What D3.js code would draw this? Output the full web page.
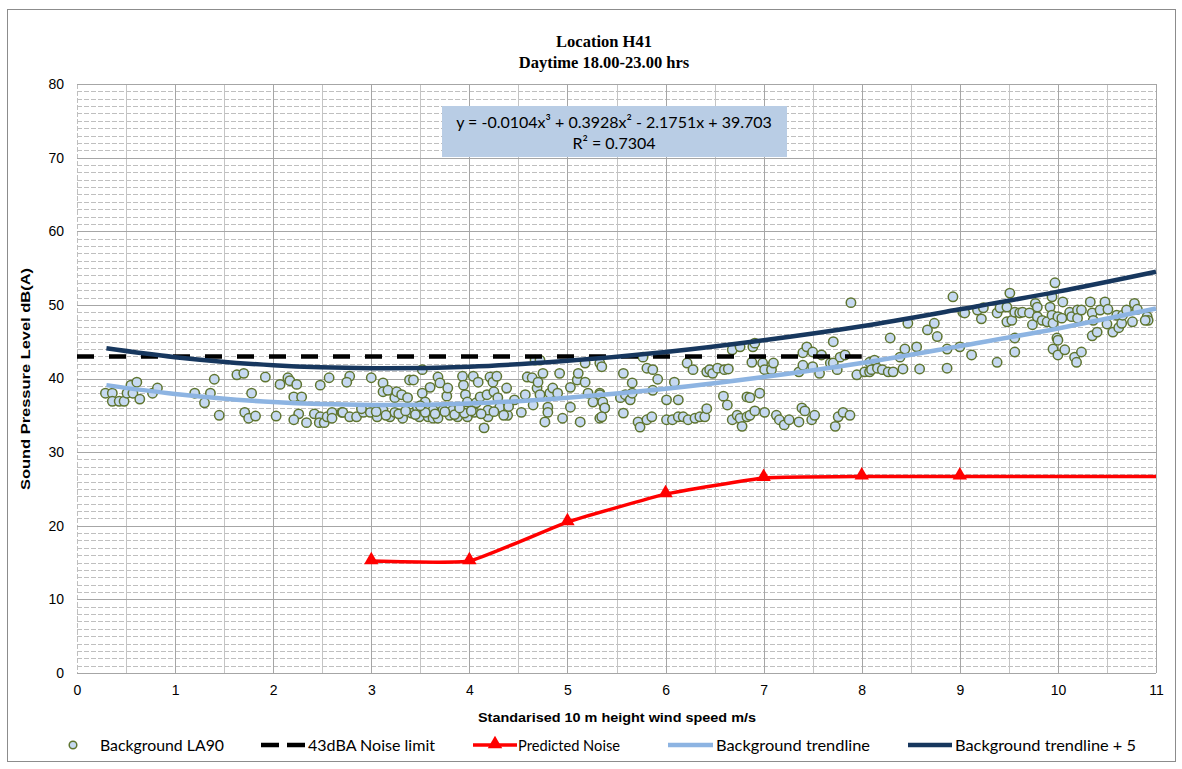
<!DOCTYPE html>
<html><head><meta charset="utf-8">
<script src="https://cdn.jsdelivr.net/npm/d3@7"></script>
<style>
html,body{margin:0;padding:0;background:#fff;}
svg{display:block;}
</style></head>
<body>
<svg id="chart" width="1182" height="769"></svg>
<script>
// ---------------- DATA ----------------
const titleLines = ["Location H41", "Daytime 18.00-23.00 hrs"];
const equationLines = ["y = -0.0104x³ + 0.3928x² - 2.1751x + 39.703", "R² = 0.7304"];
const xTicks = [0,1,2,3,4,5,6,7,8,9,10,11];
const yTicks = [0,10,20,30,40,50,60,70,80];
const xTitle = "Standarised 10 m height wind speed m/s";
const yTitle = "Sound Pressure Level dB(A)";
const legendLabels = ["Background LA90","43dBA Noise limit","Predicted Noise","Background trendline","Background trendline + 5"];

// Background LA90 scatter (wind speed m/s, dB(A))
const scatterX = [0.29,0.36,0.36,0.43,0.48,0.55,0.61,0.51,0.57,0.64,0.77,0.82,1.2,1.36,1.3,1.4,1.45,1.63,1.7,1.92,1.78,1.71,1.75,1.82,2.03,2.07,2.15,2.17,2.24,2.21,2.29,2.26,2.21,2.34,2.42,2.48,2.47,2.52,2.55,2.57,2.48,2.6,2.6,2.7,
2.78,2.75,2.71,2.78,2.85,2.92,3.0,2.99,3.06,3.12,3.12,3.17,3.12,3.19,3.24,3.26,3.24,3.31,3.32,3.37,3.39,3.43,3.41,3.47,3.49,3.52,3.55,3.52,3.58,3.6,3.63,3.63,3.68,3.68,3.7,3.73,3.77,3.78,3.8,3.83,3.88,3.93,3.94,3.96,3.98,3.98,4.04,4.05,4.07,4.09,4.11,4.18,4.19,4.19,4.21,4.24,4.25,4.28,4.29,4.31,4.15,4.38,4.39,4.46,4.53,4.57,4.59,4.64,4.65,4.67,4.72,4.69,4.7,4.72,4.75,4.77,4.8,4.8,4.82,4.85,4.9,4.92,4.95,5.03,5.03,5.1,5.11,5.13,5.18,5.21,5.18,5.26,5.33,5.33,5.38,
5.33,5.35,5.33,5.36,5.38,5.35,5.57,5.54,5.59,5.66,5.64,5.66,5.57,5.72,5.74,5.81,5.86,5.77,5.81,5.87,5.92,5.87,6.01,6.01,6.07,6.09,6.13,6.13,6.18,6.23,6.3,6.35,6.4,6.42,6.22,6.28,6.42,6.45,6.48,6.53,6.6,6.64,6.59,6.63,6.68,6.76,6.89,6.91,6.88,6.83,6.86,6.96,6.99,7.01,7.08,7.1,6.68,6.73,6.76,6.78,6.83,6.86,6.91,7.01,7.13,7.16,7.21,7.26,7.36,7.39,7.42,7.49,7.52,7.36,7.4,7.44,7.5,7.4,7.5,7.57,7.59,7.71,7.68,7.71,7.75,7.78,7.83,7.73,7.76,7.81,7.88,7.95,8.03,8.08,8.13,7.89,
8.08,8.13,8.1,8.16,8.21,8.27,8.32,8.29,8.42,8.44,8.39,8.47,8.56,8.59,8.67,8.74,8.77,8.87,8.87,8.93,9.0,9.03,9.05,9.12,9.18,9.22,9.24,9.38,9.38,9.41,9.48,9.48,9.51,9.53,9.56,9.56,9.56,9.61,9.64,9.71,9.74,9.77,9.79,9.79,9.84,9.89,9.92,9.94,9.94,9.95,9.95,9.97,10.0,9.99,10.0,10.0,10.04,10.05,10.07,10.12,10.14,10.17,10.19,10.2,10.2,10.24,10.24,10.33,10.35,10.35,10.36,10.4,10.43,10.48,10.5,10.51,10.56,10.6,10.62,10.65,10.66,10.7,10.76,10.78,10.81,10.91,10.92,10.89,
3.05,3.15,3.28,3.35,3.45,3.55,3.65,3.75,3.85,3.95,4.02,4.12,4.25,4.35,2.9,3.5,3.9,4.4];
const scatterY = [38.0,38.0,36.9,36.9,36.9,39.1,39.5,38.0,38.0,37.2,38.0,38.7,38.0,38.0,36.7,39.9,35.0,40.5,40.7,40.2,38.0,35.4,34.6,34.9,34.9,39.2,40.1,39.7,39.2,37.5,37.5,35.2,34.4,34.0,35.2,34.8,34.0,34.0,34.8,40.1,39.1,35.4,34.6,35.4,
40.3,39.5,35.4,34.8,34.8,35.4,40.1,35.4,34.8,39.4,38.2,38.4,35.7,34.8,37.4,38.2,35.4,37.8,34.6,37.4,39.8,39.8,35.3,36.1,34.8,38.0,36.8,41.2,34.8,38.8,35.7,34.6,34.6,40.2,39.4,35.7,37.6,38.7,35.0,35.7,34.8,40.3,39.1,37.8,36.8,34.8,40.3,35.4,36.7,39.5,37.5,37.8,34.8,35.7,40.2,39.5,38.2,40.3,37.4,36.1,33.3,38.7,35.0,37.1,35.4,37.8,40.2,40.1,36.4,42.5,42.5,38.7,39.5,37.8,40.7,34.1,36.1,35.4,38.0,38.7,38.0,40.7,34.6,38.8,36.1,39.8,40.7,34.1,39.5,38.0,42.1,36.8,38.0,34.6,36.0,
42.1,41.6,37.8,36.8,36.0,34.8,40.7,37.4,37.8,39.4,37.1,38.0,35.3,34.1,33.4,34.4,34.8,42.9,41.4,41.2,39.9,38.4,37.1,34.4,34.4,39.5,37.1,34.8,34.8,34.4,34.6,34.8,34.8,35.9,42.1,41.2,40.9,41.2,40.7,41.4,41.2,41.3,37.6,36.4,43.9,44.3,44.3,44.8,42.2,37.5,37.4,38.0,42.1,41.2,41.2,42.1,34.4,35.0,34.6,33.5,34.8,35.0,35.6,35.4,35.0,34.4,33.7,34.4,34.1,36.0,35.6,34.4,35.0,40.9,43.5,44.3,43.6,41.8,41.6,40.7,43.2,45.0,42.1,42.1,41.2,42.9,43.2,33.5,34.8,35.4,35.0,40.5,40.9,40.9,42.2,50.3,
42.2,42.5,41.2,41.4,41.2,40.9,40.9,45.5,41.3,44.0,42.9,47.5,44.3,41.3,46.6,47.5,45.7,44.0,41.4,51.1,44.3,49.0,48.9,43.2,49.3,48.1,49.6,48.9,42.2,49.6,47.7,49.7,51.6,47.9,49.0,45.5,43.6,48.9,49.0,48.9,47.3,50.2,49.7,48.4,47.9,47.7,49.7,51.1,48.6,47.5,44.0,53.0,48.4,45.5,45.2,43.2,48.2,50.4,43.9,49.0,48.4,42.9,42.2,49.3,48.2,49.3,43.6,50.4,48.9,45.8,47.9,46.3,49.3,50.4,47.4,49.4,46.3,48.6,46.9,47.5,48.6,49.3,47.7,50.2,49.4,48.4,47.9,47.9,
35.5,35.0,35.2,35.6,35.1,35.4,35.2,35.5,35.1,35.3,35.6,35.2,35.5,35.0,35.9,36.3,36.0,36.2];

// 43dBA noise limit
const limitX = [0, 8];
const limitY = [43, 43];

// Predicted noise
const predX = [3,4,5,6,7,8,9,10,11];
const predY = [15.2,15.2,20.5,24.3,26.5,26.7,26.7,26.7,26.7];
const predMarked = [true,true,true,true,true,true,true,false,false];

// Background trendline (read at sampled wind speeds)
const trendX = [0.3,1,2,3,4,5,6,7,8,9,10,11];
const trendY = [39.1,37.9,36.8,36.4,36.6,37.4,38.6,40.2,42.1,44.4,46.8,49.5];
const trend5Y = [44.1,42.9,41.8,41.4,41.6,42.4,43.6,45.2,47.1,49.4,51.8,54.5];

// ---------------- DRAW ----------------
const svg = d3.select("#chart");
const plot = {left: 77, right: 1156, top: 84, bottom: 673};
const x = d3.scaleLinear().domain([0, 11]).range([plot.left, plot.right]);
const y = d3.scaleLinear().domain([0, 80]).range([plot.bottom, plot.top]);

const sans = "Liberation Sans, Arial, sans-serif";
const cal = "Lato, 'Open Sans', sans-serif";

// outer border
svg.append("rect").attr("x", 7.5).attr("y", 9.5).attr("width", 1168).attr("height", 752)
  .attr("fill", "#fff").attr("stroke", "#8c8c8c").attr("stroke-width", 1);

// title
const title = svg.append("text").attr("text-anchor", "middle")
  .attr("font-family", "Liberation Serif, 'Times New Roman', serif")
  .attr("font-weight", "bold").attr("font-size", 16.5).attr("fill", "#000");
titleLines.forEach((t, i) => title.append("tspan").attr("x", 604).attr("y", 47 + i * 21).text(t));

// grid
const g = svg.append("g");
d3.range(1, 80).filter(v => v % 10 !== 0).forEach(v => {
  g.append("line").attr("x1", plot.left).attr("x2", plot.right)
    .attr("y1", Math.round(y(v)) + 0.5).attr("y2", Math.round(y(v)) + 0.5)
    .attr("stroke", "#bfbfbf").attr("stroke-width", 1).attr("stroke-dasharray", "5,2");
});
d3.range(0.5, 11.01, 0.5).forEach(v => {
  const isInt = Math.abs(v - Math.round(v)) < 1e-6;
  g.append("line").attr("y1", plot.top).attr("y2", plot.bottom)
    .attr("x1", Math.round(x(v)) + 0.5).attr("x2", Math.round(x(v)) + 0.5)
    .attr("stroke", isInt ? "#a6a6a6" : "#c4c4c4").attr("stroke-width", 1);
});
g.append("line").attr("y1", plot.top).attr("y2", plot.bottom)
  .attr("x1", plot.left + 0.5).attr("x2", plot.left + 0.5)
  .attr("stroke", "#bfbfbf").attr("stroke-dasharray", "5,2");
yTicks.forEach(v => {
  g.append("line").attr("x1", plot.left).attr("x2", plot.right)
    .attr("y1", Math.round(y(v)) + 0.5).attr("y2", Math.round(y(v)) + 0.5)
    .attr("stroke", "#a6a6a6").attr("stroke-width", 1);
});

// axes
const xAxis = svg.append("g").attr("transform", `translate(0,${plot.bottom})`)
  .call(d3.axisBottom(x).tickValues(xTicks).tickSize(0).tickPadding(12).tickFormat(d3.format("d")));
xAxis.select(".domain").remove();
xAxis.selectAll("text").attr("font-family", sans).attr("font-size", 14).attr("fill", "#000");

const yAxis = svg.append("g").attr("transform", `translate(${plot.left},0)`)
  .call(d3.axisLeft(y).tickValues(yTicks).tickSize(0).tickPadding(13).tickFormat(d3.format("d")));
yAxis.select(".domain").remove();
yAxis.selectAll("text").attr("font-family", sans).attr("font-size", 14).attr("fill", "#000");

// axis titles
svg.append("text").attr("x", 617).attr("y", 722).attr("text-anchor", "middle")
  .attr("font-family", sans).attr("font-weight", "bold").attr("font-size", 13.5)
  .attr("textLength", 278).attr("lengthAdjust", "spacingAndGlyphs").text(xTitle);
svg.append("text").attr("transform", "translate(30,379) rotate(-90)").attr("text-anchor", "middle")
  .attr("font-family", sans).attr("font-weight", "bold").attr("font-size", 13.5)
  .attr("textLength", 222).attr("lengthAdjust", "spacingAndGlyphs").text(yTitle);

// equation box
const eqBox = svg.append("g");
eqBox.append("rect").attr("x", 442).attr("y", 106).attr("width", 345).attr("height", 51).attr("fill", "#b9cde5");
equationLines.forEach((t, i) => {
  eqBox.append("text").attr("x", 614).attr("y", 128 + i * 21).attr("text-anchor", "middle")
    .attr("font-family", cal).attr("font-size", 16).attr("fill", "#000").text(t);
});

// scatter
const pts = scatterX.map((d, i) => [d, scatterY[i]]);
svg.append("g").selectAll("circle").data(pts).join("circle")
  .attr("cx", d => x(d[0])).attr("cy", d => y(d[1])).attr("r", 4.7)
  .attr("fill", "#c6d9f1").attr("stroke", "#5f7530").attr("stroke-width", 1.5);

// noise limit
const lineGen = d3.line().x(d => x(d[0])).y(d => y(d[1]));
svg.append("path").datum(limitX.map((d, i) => [d, limitY[i]])).attr("d", lineGen)
  .attr("fill", "none").attr("stroke", "#000").attr("stroke-width", 4.5).attr("stroke-dasharray", "17,15");

// trendlines
const smooth = d3.line().x(d => x(d[0])).y(d => y(d[1])).curve(d3.curveCatmullRom);
svg.append("path").datum(trendX.map((d, i) => [d, trendY[i]])).attr("d", smooth)
  .attr("fill", "none").attr("stroke", "#8db4e2").attr("stroke-width", 4.5);
svg.append("path").datum(trendX.map((d, i) => [d, trend5Y[i]])).attr("d", smooth)
  .attr("fill", "none").attr("stroke", "#17375e").attr("stroke-width", 4.5);

// predicted noise
const predPts = predX.map((d, i) => [d, predY[i], predMarked[i]]);
svg.append("path").datum(predPts).attr("d", d3.line().x(d => x(d[0])).y(d => y(d[1])).curve(d3.curveCardinal.tension(0.65)))
  .attr("fill", "none").attr("stroke", "#ff0000").attr("stroke-width", 3.5);
const tri = d3.symbol().type(d3.symbolTriangle).size(90);
svg.append("g").selectAll("path").data(predPts.filter(d => d[2])).join("path")
  .attr("d", tri).attr("transform", d => `translate(${x(d[0])},${y(d[1]) - 1})`).attr("fill", "#ff0000");

// legend
const ly = 745;
const leg = svg.append("g");
leg.append("circle").attr("cx", 73).attr("cy", ly).attr("r", 3.8).attr("fill", "#c6d9f1").attr("stroke", "#5f7530").attr("stroke-width", 1.5);
leg.append("line").attr("x1", 261).attr("x2", 305).attr("y1", ly).attr("y2", ly).attr("stroke", "#000").attr("stroke-width", 4.5).attr("stroke-dasharray", "18,8");
leg.append("line").attr("x1", 473).attr("x2", 517).attr("y1", ly).attr("y2", ly).attr("stroke", "#ff0000").attr("stroke-width", 3.5);
leg.append("path").attr("d", tri).attr("transform", `translate(495,${ly - 1})`).attr("fill", "#ff0000");
leg.append("line").attr("x1", 668).attr("x2", 713).attr("y1", ly).attr("y2", ly).attr("stroke", "#8db4e2").attr("stroke-width", 4.5);
leg.append("line").attr("x1", 908).attr("x2", 952).attr("y1", ly).attr("y2", ly).attr("stroke", "#17375e").attr("stroke-width", 4.5);
const legX = [100, 308, 518, 716, 955];
const legW = [124, 127, 102, 154, 181];
legendLabels.forEach((t, i) => {
  leg.append("text").attr("x", legX[i]).attr("y", ly + 5.5).attr("font-family", cal).attr("font-size", 16)
    .attr("textLength", legW[i]).attr("lengthAdjust", "spacingAndGlyphs").attr("fill", "#000").text(t);
});
</script>
</body></html>
